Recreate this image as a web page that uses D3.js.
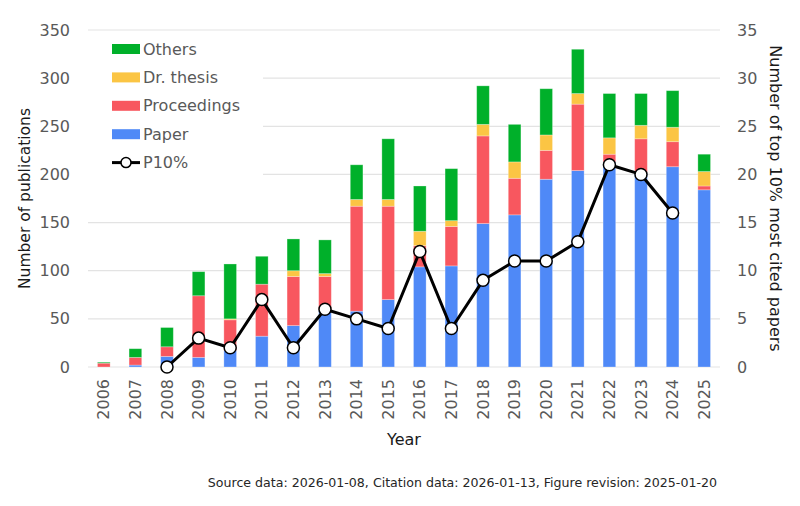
<!DOCTYPE html>
<html>
<head>
<meta charset="utf-8">
<script src="https://cdn.jsdelivr.net/npm/d3@7"></script>
<style>
  body { margin: 0; background: #fff; }
  text { font-family: "DejaVu Sans", Verdana, sans-serif; }
</style>
</head>
<body>
<div id="chart"></div>
<script>
// data
const years = ["2006","2007","2008","2009","2010","2011","2012","2013","2014","2015",
               "2016","2017","2018","2019","2020","2021","2022","2023","2024","2025"];
const paper       = [0, 2, 11, 10, 17, 32, 43, 59, 58, 70, 104, 105, 149, 158, 195, 204, 213, 202, 208, 184];
const proceedings = [4, 8, 10, 64, 32, 54, 51, 35, 109, 97, 22, 41, 91, 38, 30, 69, 8, 35, 26, 4];
const thesis      = [0, 0, 0, 0, 1, 0, 6, 3, 7, 7, 15, 6, 12, 17, 16, 11, 17, 14, 15, 15];
const others      = [1, 9, 20, 25, 57, 29, 33, 35, 36, 63, 47, 54, 40, 39, 48, 46, 46, 33, 38, 18];
const p10         = [null, null, 0, 3, 2, 7, 2, 6, 5, 4, 12, 4, 9, 11, 11, 13, 21, 20, 16, null];

const seriesNames = ["Paper", "Proceedings", "Dr. thesis", "Others"];
const seriesColors = ["#4f89f7", "#f8575f", "#fbc544", "#00b02a"];
const leftTicks = [0, 50, 100, 150, 200, 250, 300, 350];
const rightTicks = [0, 5, 10, 15, 20, 25, 30, 35];

const W = 800, H = 506;
const margin = {top: 30, right: 80, bottom: 139, left: 88};
const width = W - margin.left - margin.right,
    height = H - margin.top - margin.bottom;

const svg = d3.select("#chart").append("svg")
    .attr("width", W)
    .attr("height", H);
const g = svg.append("g")
    .attr("transform", "translate(" + margin.left + "," + margin.top + ")");

// scales
const x = d3.scaleBand().domain(years).range([0, width]).paddingInner(0.6).paddingOuter(0.3);
const y = d3.scaleLinear().domain([0, 350]).range([height, 0]);
const y2 = d3.scaleLinear().domain([0, 35]).range([height, 0]);

// grid
g.selectAll(".grid")
    .data(leftTicks)
    .enter()
    .append("line")
    .attr("x1", 0).attr("x2", width)
    .attr("y1", d => y(d)).attr("y2", d => y(d))
    .style("stroke", "#e3e3e3")
    .style("stroke-width", 1.2);

// legend background hides the grid behind it
g.append("rect")
    .attr("x", 0).attr("y", 2)
    .attr("width", 175).attr("height", 148)
    .style("fill", "#fff");

// stacked bars
const rows = years.map((yr, i) => ({
    year: yr, "Paper": paper[i], "Proceedings": proceedings[i],
    "Dr. thesis": thesis[i], "Others": others[i]
}));
const stack = d3.stack().keys(seriesNames)(rows);

g.selectAll(".layer")
    .data(stack)
    .enter()
    .append("g")
    .style("fill", (d, i) => seriesColors[i])
    .selectAll("rect")
    .data(d => d)
    .enter()
    .append("rect")
    .attr("x", d => x(d.data.year))
    .attr("width", x.bandwidth())
    .attr("y", d => y(d[1]))
    .attr("height", d => y(d[0]) - y(d[1]))
    .style("stroke", "#fff")
    .style("stroke-opacity", 0.35)
    .style("stroke-width", 0.8);

// P10% line
const pts = years.map((yr, i) => ({year: yr, v: p10[i]})).filter(d => d.v !== null);
const line = d3.line()
    .x(d => x(d.year) + x.bandwidth() / 2)
    .y(d => y2(d.v));

g.append("path")
    .datum(pts)
    .attr("d", line)
    .style("fill", "none")
    .style("stroke", "#000")
    .style("stroke-width", 3)
    .style("stroke-linejoin", "round");

g.selectAll(".dot")
    .data(pts)
    .enter()
    .append("circle")
    .attr("cx", d => x(d.year) + x.bandwidth() / 2)
    .attr("cy", d => y2(d.v))
    .attr("r", 6)
    .style("fill", "#fff")
    .style("stroke", "#000")
    .style("stroke-width", 1.5);

// axes
const leftAxis = g.append("g")
    .call(d3.axisLeft(y).tickValues(leftTicks).tickSize(0).tickPadding(18));
const rightAxis = g.append("g")
    .attr("transform", "translate(" + width + ",0)")
    .call(d3.axisRight(y2).tickValues(rightTicks).tickSize(0).tickPadding(17));
const bottomAxis = g.append("g")
    .attr("transform", "translate(0," + height + ")")
    .call(d3.axisBottom(x).tickSize(0));

[leftAxis, rightAxis].forEach(a => {
    a.select(".domain").remove();
    a.selectAll("text").style("font-size", "16px").style("fill", "#595959");
});
bottomAxis.select(".domain").remove();
bottomAxis.selectAll("text")
    .style("font-size", "16px")
    .style("fill", "#595959")
    .attr("transform", "rotate(-90)")
    .attr("x", -12)
    .attr("y", 0)
    .attr("dy", "0.35em")
    .style("text-anchor", "end");

// axis titles
svg.append("text")
    .attr("transform", "translate(25," + (margin.top + height / 2) + ") rotate(-90)")
    .attr("dy", "0.35em")
    .style("text-anchor", "middle")
    .style("font-size", "15.5px")
    .style("fill", "#1a1a1a")
    .text("Number of publications");

svg.append("text")
    .attr("transform", "translate(776," + (margin.top + height / 2) + ") rotate(90)")
    .attr("dy", "0.35em")
    .style("text-anchor", "middle")
    .style("font-size", "16px")
    .style("fill", "#1a1a1a")
    .text("Number of top 10% most cited papers");

svg.append("text")
    .attr("x", margin.left + width / 2)
    .attr("y", 439)
    .attr("dy", "0.35em")
    .style("text-anchor", "middle")
    .style("font-size", "16px")
    .style("fill", "#1a1a1a")
    .text("Year");

svg.append("text")
    .attr("x", 717)
    .attr("y", 483)
    .attr("dy", "0.35em")
    .style("text-anchor", "end")
    .style("font-size", "12.6px")
    .style("fill", "#262626")
    .text("Source data: 2026-01-08, Citation data: 2026-01-13, Figure revision: 2025-01-20");

// legend
const legendItems = [
    {name: "Others", color: seriesColors[3]},
    {name: "Dr. thesis", color: seriesColors[2]},
    {name: "Proceedings", color: seriesColors[1]},
    {name: "Paper", color: seriesColors[0]},
    {name: "P10%", color: null}
];
const legend = svg.append("g").attr("transform", "translate(112,49)");
const item = legend.selectAll(".item")
    .data(legendItems)
    .enter()
    .append("g")
    .attr("transform", (d, i) => "translate(0," + (i * 28.4) + ")");

item.filter(d => d.color)
    .append("rect")
    .attr("x", 0).attr("y", -5)
    .attr("width", 28).attr("height", 10)
    .style("fill", d => d.color);

const lineItem = item.filter(d => !d.color);
lineItem.append("line")
    .attr("x1", 0).attr("x2", 28)
    .style("stroke", "#000")
    .style("stroke-width", 3);
lineItem.append("circle")
    .attr("cx", 14).attr("r", 5)
    .style("fill", "#fff")
    .style("stroke", "#000")
    .style("stroke-width", 1.5);

item.append("text")
    .attr("x", 31)
    .attr("dy", "0.35em")
    .style("font-size", "16px")
    .style("fill", "#595959")
    .text(d => d.name);
</script>
</body>
</html>
